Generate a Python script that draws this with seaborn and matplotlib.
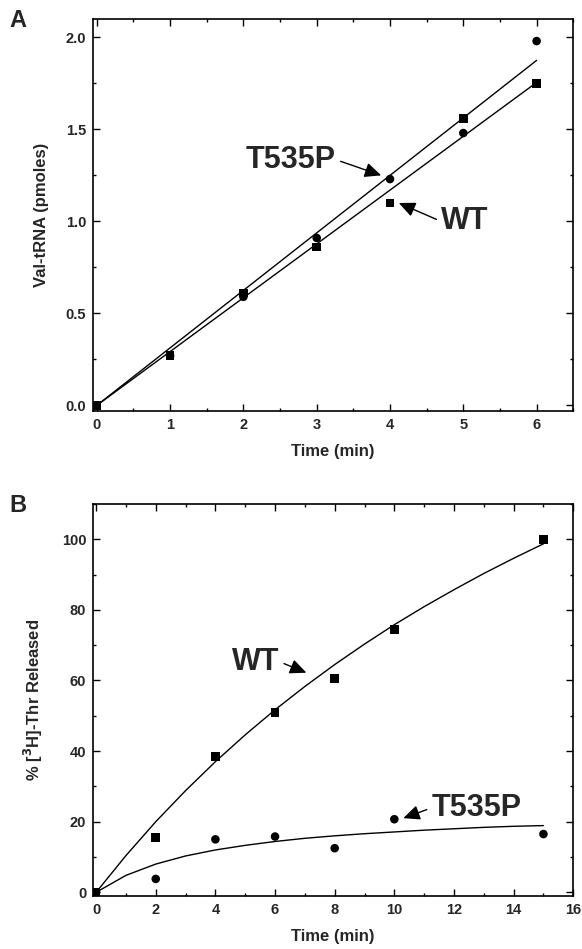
import numpy as np
import pandas as pd
import seaborn as sns
import matplotlib.pyplot as plt
from matplotlib.ticker import MultipleLocator, FormatStrFormatter

# ---- Panel A data: Val-tRNA formation ----
time_a = [0, 1, 2, 3, 4, 5, 6]
wt_a = [0.0, 0.27, 0.61, 0.86, 1.10, 1.56, 1.75]
t535p_a = [0.0, 0.27, 0.59, 0.91, 1.23, 1.48, 1.98]
# fitted lines
fit_time_a = [0, 6]
wt_fit_a = [0.0, 1.755]
t535p_fit_a = [0.0, 1.875]

# ---- Panel B data: [3H]-Thr release ----
time_b = [0, 2, 4, 6, 8, 10, 15]
wt_b = [0.0, 15.5, 38.5, 51.0, 60.5, 74.5, 100.0]
t535p_b = [0.0, 3.8, 15.0, 15.8, 12.5, 20.7, 16.5]
# fitted curves
fit_time_b = [0, 1, 2, 3, 4, 5, 6, 7, 8, 9, 10, 11, 12, 13, 14, 15]
wt_fit_b = [0, 10.4, 20, 28.8, 37, 44.6, 51.7, 58.3, 64.5, 70.3, 75.8, 80.9, 85.7, 90.3, 94.6, 98.7]
t535p_fit_b = [0, 4.8, 8, 10.3, 12, 13.3, 14.4, 15.3, 16, 16.6, 17.1, 17.6, 18, 18.4, 18.7, 18.9]

sns.set_style("ticks")
plt.rcParams['font.family'] = ['Liberation Sans', 'DejaVu Sans']
plt.rcParams['font.weight'] = 'bold'
plt.rcParams['axes.labelweight'] = 'bold'

fig = plt.figure(figsize=(5.82, 9.49), dpi=100)
ax_a = fig.add_axes([0.160, 0.567, 0.825, 0.413])
ax_b = fig.add_axes([0.160, 0.056, 0.825, 0.413])

label_font = ['Liberation Sans Narrow', 'Liberation Sans', 'DejaVu Sans']


def style_axes(ax):
    for s in ax.spines.values():
        s.set_visible(True)
        s.set_linewidth(1.2)
        s.set_color('black')
    ax.tick_params(which='both', direction='in', top=True, right=True,
                   labelsize=10.5, width=1.0, color='black', pad=5)
    ax.tick_params(which='major', length=5)
    ax.tick_params(which='minor', length=2.5)
    for lab in ax.get_xticklabels() + ax.get_yticklabels():
        lab.set_fontweight('bold')


def arrow(ax, text, xy, xytext, size):
    ax.annotate(text, xy=xy, xytext=xytext, fontsize=size, fontweight='bold',
                family=label_font, ha='center', va='center',
                arrowprops=dict(arrowstyle='-|>,head_length=1.0,head_width=0.45',
                                mutation_scale=10, color='black', lw=1.0,
                                shrinkA=1, shrinkB=0,
                                relpos=(1.0, 0.5) if xy[0] > xytext[0] else (0.0, 0.5)))


# ---- Panel A ----
df_a = pd.DataFrame({'time': time_a * 2, 'val': wt_a + t535p_a,
                     'strain': ['WT'] * 7 + ['T535P'] * 7})
fit_a = pd.DataFrame({'time': fit_time_a * 2, 'val': wt_fit_a + t535p_fit_a,
                      'strain': ['WT'] * 2 + ['T535P'] * 2})
sns.lineplot(data=fit_a, x='time', y='val', units='strain', estimator=None,
             color='black', lw=1.0, ax=ax_a)
sns.scatterplot(data=df_a, x='time', y='val', style='strain',
                markers={'WT': 's', 'T535P': 'o'}, color='black', s=38,
                edgecolor='black', linewidth=0, legend=False, ax=ax_a)
ax_a.set_xlim(-0.05, 6.5)
ax_a.set_ylim(-0.03, 2.1)
ax_a.xaxis.set_major_locator(MultipleLocator(1))
ax_a.xaxis.set_minor_locator(MultipleLocator(0.5))
ax_a.yaxis.set_major_locator(MultipleLocator(0.5))
ax_a.yaxis.set_minor_locator(MultipleLocator(0.25))
ax_a.yaxis.set_major_formatter(FormatStrFormatter('%.1f'))
ax_a.set_xlabel('Time (min)', fontsize=12, fontweight='bold', labelpad=9)
ax_a.set_ylabel('Val-tRNA (pmoles)', fontsize=12, fontweight='bold', labelpad=12)
style_axes(ax_a)
arrow(ax_a, 'T535P', xy=(3.88, 1.25), xytext=(2.65, 1.335), size=22)
arrow(ax_a, 'WT', xy=(4.12, 1.10), xytext=(5.02, 1.0), size=22)

# ---- Panel B ----
df_b = pd.DataFrame({'time': time_b * 2, 'val': wt_b + t535p_b,
                     'strain': ['WT'] * 7 + ['T535P'] * 7})
fit_b = pd.DataFrame({'time': fit_time_b * 2, 'val': wt_fit_b + t535p_fit_b,
                      'strain': ['WT'] * 16 + ['T535P'] * 16})
sns.lineplot(data=fit_b, x='time', y='val', units='strain', estimator=None,
             color='black', lw=1.0, ax=ax_b)
sns.scatterplot(data=df_b, x='time', y='val', style='strain',
                markers={'WT': 's', 'T535P': 'o'}, color='black', s=38,
                edgecolor='black', linewidth=0, legend=False, ax=ax_b)
ax_b.set_xlim(-0.1, 16)
ax_b.set_ylim(-1, 110)
ax_b.xaxis.set_major_locator(MultipleLocator(2))
ax_b.xaxis.set_minor_locator(MultipleLocator(1))
ax_b.yaxis.set_major_locator(MultipleLocator(20))
ax_b.yaxis.set_minor_locator(MultipleLocator(10))
ax_b.set_xlabel('Time (min)', fontsize=12, fontweight='bold', labelpad=9)
ax_b.set_ylabel(r'% [$^{3}$H]-Thr Released', fontsize=12, fontweight='bold', labelpad=12)
style_axes(ax_b)
arrow(ax_b, 'WT', xy=(7.05, 62.2), xytext=(5.35, 65.3), size=22)
arrow(ax_b, 'T535P', xy=(10.3, 21.0), xytext=(12.75, 23.9), size=22)

fig.text(0.016, 0.990, 'A', fontsize=17, fontweight='bold', va='top')
fig.text(0.016, 0.479, 'B', fontsize=17, fontweight='bold', va='top')

fig.savefig('out.png', dpi=100)
